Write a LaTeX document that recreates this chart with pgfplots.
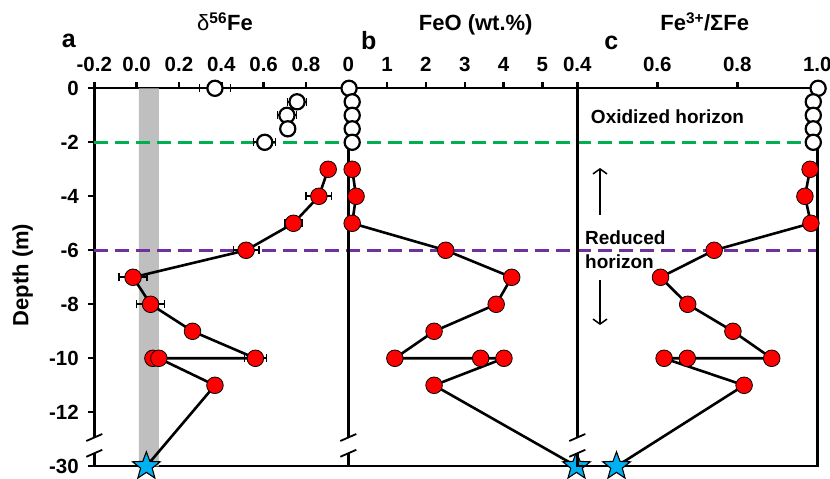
\documentclass[border=0pt]{standalone}
\usepackage{pgfplots}
\usepackage{pgfplotstable}
\pgfplotsset{compat=1.18}
\usepackage{fontspec}
\setmainfont{Liberation Sans}
\usetikzlibrary{arrows.meta}

\definecolor{redpt}{RGB}{255,0,0}
\definecolor{starblue}{RGB}{0,176,240}
\definecolor{oxgreen}{RGB}{0,176,80}
\definecolor{redpurple}{RGB}{112,48,160}
\definecolor{bandgray}{RGB}{191,191,191}

% filled five-pointed star
\pgfdeclareplotmark{fstar}{%
  \pgfpathmoveto{\pgfpointpolar{90}{\pgfplotmarksize}}%
  \pgfpathlineto{\pgfpointpolar{126}{0.42*\pgfplotmarksize}}%
  \pgfpathlineto{\pgfpointpolar{162}{\pgfplotmarksize}}%
  \pgfpathlineto{\pgfpointpolar{198}{0.42*\pgfplotmarksize}}%
  \pgfpathlineto{\pgfpointpolar{234}{\pgfplotmarksize}}%
  \pgfpathlineto{\pgfpointpolar{270}{0.42*\pgfplotmarksize}}%
  \pgfpathlineto{\pgfpointpolar{306}{\pgfplotmarksize}}%
  \pgfpathlineto{\pgfpointpolar{342}{0.42*\pgfplotmarksize}}%
  \pgfpathlineto{\pgfpointpolar{18}{\pgfplotmarksize}}%
  \pgfpathlineto{\pgfpointpolar{54}{0.42*\pgfplotmarksize}}%
  \pgfpathclose
  \pgfusepathqfillstroke
}

% depth in m; the bedrock sample at -30 m sits at -14 on the broken depth axis
% delta56Fe, oxidized horizon
\pgfplotstableread{
fe     err    d
0.370  0.073   0.0
0.758  0.045  -0.5
0.710  0.045  -1.0
0.714  0.000  -1.5
0.605  0.052  -2.0
}\feox
% delta56Fe, reduced horizon + bedrock (last row)
\pgfplotstableread{
fe     err    d
0.905  0.000  -3
0.861  0.060  -4
0.741  0.040  -5
0.517  0.060  -6
-0.017 0.066  -7
0.066  0.066  -8
0.264  0.000  -9
0.561  0.052  -10
0.077  0.000  -10
0.105  0.030  -10
0.370  0.000  -11
0.046  0.000  -14
}\fered
% FeO (wt.%)
\pgfplotstableread{
v     d
0.02   0.0
0.10  -0.5
0.10  -1.0
0.10  -1.5
0.10  -2.0
}\feoox
\pgfplotstableread{
v     d
0.10  -3
0.20  -4
0.10  -5
2.51  -6
4.21  -7
3.81  -8
2.21  -9
1.20  -10
3.41  -10
4.01  -10
2.21  -11
5.88  -14
}\feored
% Fe3+/SumFe
\pgfplotstableread{
v      d
1.002   0.0
0.990  -0.5
0.990  -1.0
0.990  -1.5
0.990  -2.0
}\ratox
\pgfplotstableread{
v      d
0.982  -3
0.969  -4
0.984  -5
0.742  -6
0.608  -7
0.676  -8
0.789  -9
0.886  -10
0.675  -10
0.617  -10
0.817  -11
0.498  -14
}\ratred

\pgfplotsset{
  panel/.style={
    scale only axis, anchor=south west, height=378pt,
    ymin=-14, ymax=0, clip=false,
    axis line style={line width=2.4pt, black},
    tick style={line width=2.4pt, black},
    major tick length=6pt, tick align=outside,
    xtick pos=right, xticklabel pos=right,
    ytick=\empty,
    /pgf/number format/assume math mode=true,
    tick label style={font=\fontsize{20.5}{24}\selectfont\bfseries},
    xticklabel style={yshift=7pt},
    yticklabel style={xshift=-6pt},
  },
  profile/.style={black, line width=2.6pt, mark=none},
  redmark/.style={only marks, mark=*, mark size=8.3pt,
    mark options={fill=redpt, draw=black, line width=0.8pt}},
  openmark/.style={only marks, mark=*, mark size=7.6pt,
    mark options={fill=white, draw=black, line width=2.2pt}},
  starmark/.style={only marks, mark=fstar, mark size=14.5pt,
    mark options={fill=starblue, draw=black, line width=1.1pt}},
  errs/.style={draw=none, mark=none,
    error bars/.cd, x dir=both, x explicit,
    error bar style={draw=black, solid, line width=1.6pt},
    error mark options={draw=black, line width=1.6pt, mark size=4pt, rotate=90}},
}

\begin{document}
\begin{tikzpicture}
\useasboundingbox (0,0) rectangle (830pt,479pt);

% panel a: delta56Fe
\begin{axis}[panel, at={(94.3pt,12.7pt)}, width=254pt,
  xmin=-0.2, xmax=1.0,
  xtick={-0.2,0,0.2,0.4,0.6,0.8},
  xticklabels={-0.2,0.0,0.2,0.4,0.6,0.8},
  ytick={0,-2,-4,-6,-8,-10,-12,-14},
  yticklabels={0,-2,-4,-6,-8,-10,-12,-30},
  ytick pos=left, yticklabel pos=left]
  % igneous rock range
  \addplot[draw=none, fill=bandgray] coordinates {(0.01,0) (0.105,0) (0.105,-14) (0.01,-14) (0.01,0)};
  % horizon boundaries, running across all three panels
  \addplot[oxgreen, line width=3.5pt, dash pattern=on 14pt off 7pt] coordinates {(-0.2,-2) (3.2157,-2)};
  \addplot[redpurple, line width=3.5pt, dash pattern=on 14pt off 7pt] coordinates {(-0.2,-6) (3.2157,-6)};
  \addplot[errs] table[x=fe, y=d, x error=err] {\feox};
  \addplot[errs] table[x=fe, y=d, x error=err] {\fered};
  \addplot[openmark] table[x=fe, y=d] {\feox};
  \addplot[profile] table[x=fe, y=d] {\fered};
  \addplot[redmark, skip coords between index={11}{12}] table[x=fe, y=d] {\fered};
  \addplot[starmark, skip coords between index={0}{11}] table[x=fe, y=d] {\fered};
\end{axis}

% panel b: FeO
\begin{axis}[panel, at={(348.3pt,12.7pt)}, width=229pt,
  xmin=0, xmax=5.9,
  xtick={0,1,2,3,4,5}, xticklabels={0,1,2,3,4,5}]
  \addplot[openmark] table[x=v, y=d] {\feoox};
  \addplot[profile] table[x=v, y=d] {\feored};
  \addplot[redmark, skip coords between index={11}{12}] table[x=v, y=d] {\feored};
  \addplot[starmark, skip coords between index={0}{11}] table[x=v, y=d] {\feored};
\end{axis}

% panel c: Fe3+/SumFe
\begin{axis}[panel, at={(577.3pt,12.7pt)}, width=240pt,
  xmin=0.4, xmax=1.0,
  xtick={0.4,0.6,0.8,1.0}, xticklabels={0.4,0.6,0.8,1.0}]
  \addplot[openmark] table[x=v, y=d] {\ratox};
  \addplot[profile] table[x=v, y=d] {\ratred};
  \addplot[redmark, skip coords between index={11}{12}] table[x=v, y=d] {\ratred};
  \addplot[starmark, skip coords between index={0}{11}] table[x=v, y=d] {\ratred};
\end{axis}

% axis breaks between -12 m and -30 m
\foreach \bx in {94.3,348.3,577.3} {
  \fill[white] (\bx pt-2.5pt,25.7pt) rectangle (\bx pt+2.5pt,41.5pt);
  \draw[line width=1.8pt] (\bx pt-8pt,38pt) -- (\bx pt+8pt,45pt);
  \draw[line width=1.8pt] (\bx pt-8pt,22.2pt) -- (\bx pt+8pt,29.2pt);
}

% titles and panel letters
\node[anchor=base, font=\fontsize{22}{26}\selectfont\bfseries] at (225pt,448.3pt) {{\mdseries δ}\textsuperscript{56}Fe};
\node[anchor=base, font=\fontsize{22}{26}\selectfont\bfseries] at (475.7pt,448.3pt) {FeO (wt.\%)};
\node[anchor=base, font=\fontsize{22}{26}\selectfont\bfseries] at (704.7pt,448.3pt) {Fe\textsuperscript{3+}/ΣFe};
\node[anchor=base, font=\fontsize{25}{30}\selectfont\bfseries] at (68.8pt,431.7pt) {a};
\node[anchor=base, font=\fontsize{25}{30}\selectfont\bfseries] at (368.7pt,429pt) {b};
\node[anchor=base, font=\fontsize{25}{30}\selectfont\bfseries] at (611.3pt,429pt) {c};
\node[rotate=90, font=\fontsize{22}{26}\selectfont\bfseries] at (22.7pt,204pt) {Depth (m)};

% horizon annotations
\node[anchor=base, font=\fontsize{19}{23}\selectfont\bfseries] at (667.5pt,355pt) {Oxidized horizon};
\node[anchor=base west, inner sep=0pt, font=\fontsize{19}{23}\selectfont\bfseries] at (585pt,234pt) {Reduced};
\node[anchor=base west, inner sep=0pt, font=\fontsize{19}{23}\selectfont\bfseries] at (585pt,210.7pt) {horizon};
\draw[line width=1.5pt, -{Straight Barb[length=5pt,width=14pt]}] (600pt,264pt) -- (600pt,311pt);
\draw[line width=1.5pt, -{Straight Barb[length=5pt,width=14pt]}] (600pt,199pt) -- (600pt,154pt);
\end{tikzpicture}
\end{document}
